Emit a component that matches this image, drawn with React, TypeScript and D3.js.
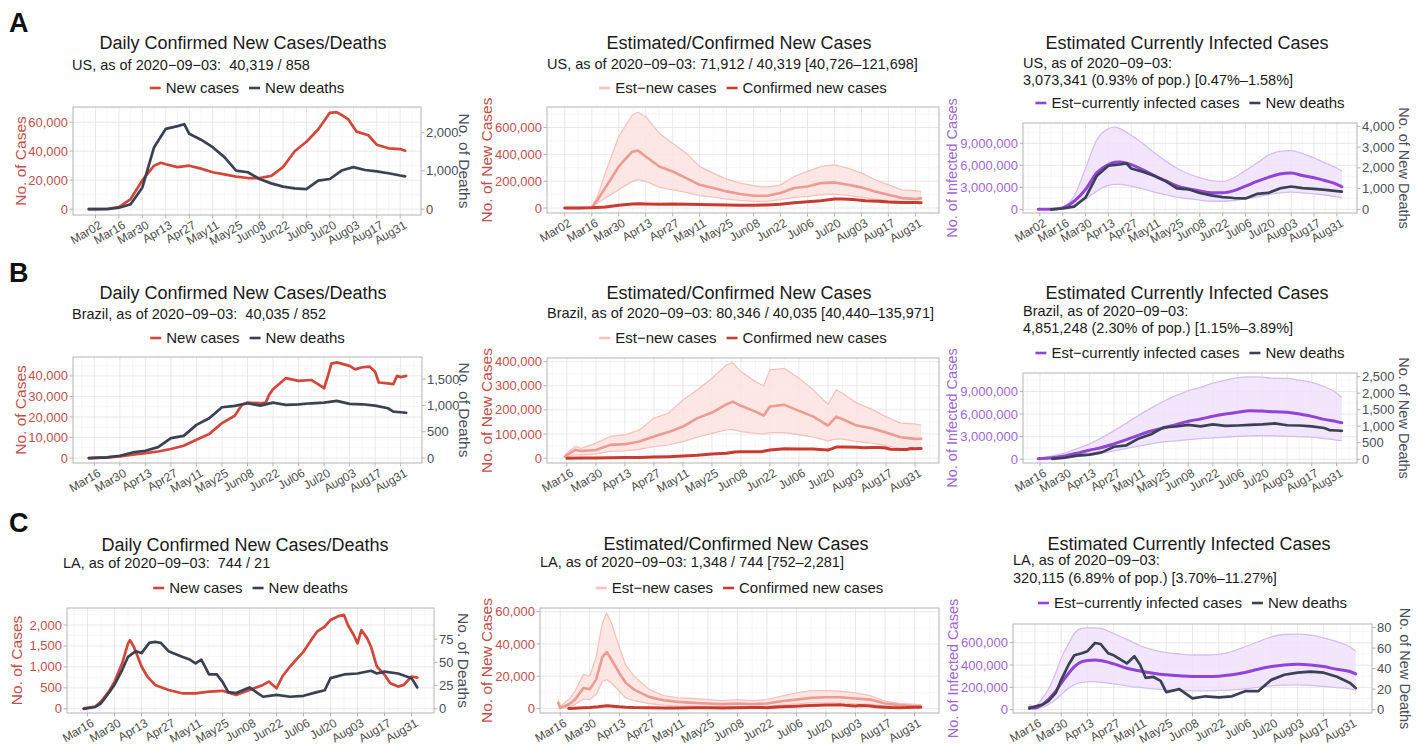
import React from "react";
import * as d3 from "d3";

type Pt = [string, number];

// ---------------- DATA ----------------
// US daily
const usCases: Pt[] = [["02-27",0],["03-02",100],["03-09",300],["03-16",1500],["03-23",7000],["03-30",20000],["04-06",30000],["04-10",32000],["04-13",31000],["04-20",29000],["04-27",30000],["05-04",28000],["05-11",25500],["05-18",24000],["05-25",22500],["06-01",21500],["06-08",21500],["06-15",23000],["06-22",29000],["06-29",40000],["07-06",46500],["07-13",55000],["07-20",66500],["07-24",67000],["07-27",65000],["07-31",62000],["08-05",53500],["08-12",51000],["08-17",44500],["08-24",42000],["08-31",41500],["09-03",40319]];
const usDeaths: Pt[] = [["02-27",0],["03-09",0],["03-16",40],["03-23",130],["03-30",570],["04-06",1620],["04-13",2100],["04-20",2170],["04-24",2220],["04-27",1970],["05-04",1815],["05-11",1620],["05-18",1360],["05-25",1010],["06-01",965],["06-08",790],["06-15",675],["06-22",590],["06-29",545],["07-06",525],["07-13",745],["07-20",790],["07-27",1010],["08-03",1100],["08-10",1025],["08-17",990],["08-24",940],["08-31",880],["09-03",858]];
// US estimated new cases
const usEstDates = ["03-02","03-09","03-16","03-19","03-23","03-30","04-06","04-09","04-13","04-20","04-27","05-04","05-11","05-18","05-25","06-01","06-08","06-15","06-22","06-29","07-06","07-13","07-20","07-27","08-03","08-10","08-17","08-24","08-31","09-03"];
const usEstMed = [0,0,5000,62000,150000,310000,420000,428000,384000,310000,272000,223000,173000,149000,124000,104000,92000,92000,112000,149000,161000,186000,191000,173000,154000,124000,99000,74000,67000,71912];
const usEstHi = [0,0,8000,87000,260000,533000,694000,714000,681000,558000,483000,409000,310000,260000,216000,186000,166000,156000,173000,235000,273000,310000,322000,297000,260000,211000,173000,136000,129000,121698];
const usEstLo = [0,0,2000,37000,74000,136000,198000,211000,198000,156000,136000,116000,92000,82000,67000,57000,50000,50000,62000,79000,87000,99000,104000,94000,82000,67000,55000,45000,42000,40726];
// US currently infected
const usInfDates = ["03-01","03-09","03-16","03-23","03-30","04-06","04-13","04-17","04-20","04-27","05-04","05-11","05-18","05-25","06-01","06-08","06-15","06-22","06-29","07-06","07-13","07-20","07-27","08-03","08-10","08-17","08-24","08-31","09-03"];
const usInfMed = [0,20000,200000,1100000,2700000,5000000,6100000,6400000,6450000,6100000,5400000,4600000,3900000,3200000,2800000,2500000,2250000,2250000,2550000,3150000,3800000,4350000,4800000,4950000,4600000,4300000,3900000,3400000,3073341];
const usInfHi = [0,50000,350000,1800000,5600000,9500000,11000000,11200000,11000000,10100000,9000000,7750000,6600000,5600000,4850000,4300000,3900000,3800000,4300000,5300000,6300000,7350000,7900000,8000000,7600000,7000000,6300000,5600000,5200000];
const usInfLo = [0,10000,100000,550000,1350000,2500000,3250000,3400000,3400000,3150000,2800000,2350000,2000000,1650000,1450000,1250000,1100000,1100000,1200000,1450000,1700000,2000000,2250000,2350000,2250000,2100000,1950000,1700000,1550000];

// Brazil daily
const brCases: Pt[] = [["03-13",0],["03-16",50],["03-23",300],["03-30",800],["04-06",1600],["04-13",2400],["04-20",3200],["04-27",4400],["05-04",6000],["05-11",8900],["05-18",11700],["05-25",17000],["06-01",20600],["06-05",26000],["06-08",27000],["06-15",26700],["06-18",27000],["06-20",31000],["06-22",33500],["06-29",38900],["07-06",37600],["07-13",38000],["07-16",36400],["07-20",34000],["07-22",39700],["07-24",46000],["07-27",46600],["08-03",44900],["08-06",43200],["08-10",44200],["08-14",44500],["08-17",42000],["08-19",36800],["08-24",36400],["08-27",36000],["08-29",40000],["08-31",39400],["09-03",40035]];
const brDeaths: Pt[] = [["03-13",0],["03-23",13],["03-30",45],["04-06",107],["04-13",140],["04-20",208],["04-27",378],["05-04",422],["05-11",630],["05-18",757],["05-25",965],["06-01",990],["06-08",1040],["06-15",995],["06-22",1053],["06-29",1009],["07-06",1021],["07-13",1040],["07-20",1053],["07-27",1085],["08-03",1028],["08-10",1021],["08-17",995],["08-24",946],["08-27",883],["08-31",870],["09-03",860]];
// Brazil estimated new cases
const brEstDates = ["03-15","03-20","03-23","03-30","04-06","04-13","04-20","04-27","05-04","05-11","05-18","05-25","06-01","06-04","06-08","06-15","06-19","06-22","06-29","07-06","07-13","07-20","07-24","07-27","08-03","08-10","08-17","08-24","08-31","09-03"];
const brEstMed = [7000,34000,30000,34000,55000,58000,69000,90000,108000,131000,166000,189000,223000,234000,217000,193000,177000,214000,221000,196000,172000,135000,172000,161000,135000,124000,106000,87000,80000,80346];
const brEstHi = [14000,48000,41000,62000,90000,97000,117000,166000,186000,241000,283000,331000,386000,395000,359000,317000,300000,366000,372000,331000,283000,223000,283000,269000,228000,203000,172000,145000,142000,135971];
const brEstLo = [3000,14000,14000,18000,28000,30000,37000,48000,55000,69000,87000,103000,117000,119000,110000,103000,100000,106000,106000,97000,87000,72000,80000,79000,69000,62000,52000,41000,37000,40440];
// Brazil currently infected
const brInfDates = ["03-15","03-23","03-30","04-06","04-13","04-20","04-27","05-04","05-11","05-18","05-25","06-01","06-08","06-15","06-22","06-29","07-06","07-13","07-20","07-27","08-03","08-10","08-17","08-24","08-31","09-03"];
const brInfMed = [80000,200000,450000,800000,1200000,1550000,2050000,2600000,3200000,3750000,4150000,4600000,5050000,5350000,5700000,6000000,6250000,6450000,6400000,6300000,6250000,6000000,5700000,5300000,5000000,4851248];
const brInfHi = [150000,450000,800000,1400000,2050000,2850000,3800000,4800000,5850000,6800000,7700000,8450000,9100000,9550000,10100000,10500000,10850000,10950000,10900000,10750000,10750000,10500000,10200000,9650000,8800000,8200000];
const brInfLo = [30000,80000,200000,350000,500000,800000,1100000,1450000,1750000,2050000,2300000,2450000,2600000,2750000,2850000,2950000,3050000,3100000,3150000,3100000,3050000,3000000,2950000,2750000,2550000,2430000];

// LA daily
const laCases: Pt[] = [["03-14",10],["03-20",55],["03-23",175],["03-27",410],["03-30",650],["04-03",1090],["04-06",1560],["04-07",1640],["04-09",1480],["04-11",1250],["04-13",1010],["04-16",770],["04-20",570],["04-27",450],["05-04",370],["05-11",370],["05-18",410],["05-25",430],["06-01",330],["06-08",450],["06-15",570],["06-18",650],["06-22",490],["06-25",770],["06-29",1010],["07-06",1365],["07-10",1640],["07-13",1840],["07-17",1960],["07-20",2120],["07-24",2210],["07-27",2240],["07-29",2000],["08-01",1760],["08-03",1560],["08-05",1880],["08-08",1680],["08-10",1480],["08-13",1010],["08-17",810],["08-20",610],["08-24",530],["08-27",570],["08-31",770],["09-03",744]];
const laDeaths: Pt[] = [["03-14",0],["03-20",2],["03-23",6],["03-27",17],["03-30",26],["04-03",42],["04-06",56],["04-10",62],["04-13",60],["04-17",71],["04-20",72],["04-23",71],["04-27",62],["05-04",56],["05-08",53],["05-11",49],["05-14",53],["05-18",37],["05-22",37],["05-25",29],["05-28",18],["06-01",17],["06-08",23],["06-15",13],["06-22",15],["06-29",13],["07-06",14],["07-13",18],["07-17",20],["07-20",33],["07-27",37],["08-03",38],["08-10",41],["08-13",38],["08-17",40],["08-24",38],["08-31",33],["09-03",23]];
// LA estimated new cases
const laEstDates = ["03-15","03-16","03-20","03-23","03-27","03-30","04-02","04-05","04-07","04-09","04-13","04-16","04-20","04-27","05-04","05-11","05-18","05-25","06-01","06-08","06-15","06-22","06-29","07-06","07-13","07-20","07-27","08-03","08-10","08-17","08-24","08-31","09-03"];
const laEstMed = [3500,400,2500,5500,12700,12000,17900,32000,35000,31000,22000,16000,11700,7200,5100,4100,3500,3100,2700,3100,2700,3100,4500,5500,6600,7000,7000,6200,5500,3100,2100,1400,1348];
const laEstHi = [5500,1400,5500,10700,21000,20000,32000,53000,59000,54000,38000,27000,20000,12000,8000,6600,6200,5500,4900,5500,4900,5500,7600,9700,11100,11100,10700,9700,8000,4500,3100,2500,2281];
const laEstLo = [1400,100,1000,2500,6000,5500,8600,16800,17900,16200,10700,6600,4900,3100,2100,1600,1400,1200,1200,1200,1200,1400,2100,2900,3500,3500,3500,2900,2500,1400,1000,800,752];
// LA currently infected
const laInfDates = ["03-13","03-16","03-20","03-23","03-27","03-30","04-03","04-06","04-10","04-13","04-17","04-20","04-27","05-04","05-11","05-18","05-25","06-01","06-08","06-15","06-22","06-29","07-06","07-13","07-20","07-27","08-03","08-10","08-17","08-24","08-31","09-03"];
const laInfMed = [20000,15000,45000,90000,163000,238000,327000,386000,430000,440000,446000,440000,410000,371000,347000,327000,312000,303000,297000,297000,300000,312000,333000,362000,386000,401000,407000,401000,386000,362000,342000,320115];
const laInfHi = [45000,30000,104000,178000,327000,460000,594000,683000,728000,734000,734000,728000,683000,630000,573000,535000,511000,499000,490000,490000,496000,520000,564000,609000,653000,674000,677000,668000,644000,609000,564000,524000];
const laInfLo = [15000,6000,24000,45000,90000,134000,193000,223000,244000,252000,252000,244000,232000,214000,199000,187000,178000,172000,169000,169000,172000,178000,187000,200000,214000,220000,223000,218000,208000,198000,187000,172000];
const laDeathsInf: Pt[] = [["03-13",1],["03-16",3],["03-20",5],["03-23",8],["03-27",16],["03-30",29],["04-03",44],["04-06",53],["04-10",55],["04-13",57],["04-17",65],["04-20",64],["04-24",55],["04-27",53],["05-04",45],["05-08",52],["05-11",44],["05-14",31],["05-18",32],["05-22",28],["05-25",17],["06-01",20],["06-08",11],["06-15",13],["06-22",12],["06-29",13],["07-06",18],["07-13",18],["07-20",29],["07-27",34],["08-03",36],["08-10",37],["08-17",36],["08-24",32],["08-31",26],["09-03",21]];

// Axis ticks
const xTicksA = ["03-02","03-16","03-30","04-13","04-27","05-11","05-25","06-08","06-22","07-06","07-20","08-03","08-17","08-31"];
const xTicksBC = ["03-16","03-30","04-13","04-27","05-11","05-25","06-08","06-22","07-06","07-20","08-03","08-17","08-31"];

// ---------------- STYLE ----------------
const FONT = "'Liberation Sans', Arial, Helvetica, sans-serif";
const RED = "#d2473a";
const DARK = "#3b4155";
const PINK_LINE = "#eb9b93";
const PINK_FILL = "#fce3e0";
const PINK_EDGE = "#f4c3be";
const CONF = "#c93b2f";
const PURPLE = "#9045d6";
const PURPLE_FILL = "#efe2fa";
const PURPLE_EDGE = "#d6bdf1";
const RED_TXT = "#c0504d";
const DARK_TXT = "#4a4e5a";
const PURPLE_TXT = "#a066d6";

const parse = (s: string) => {
  const [m, d] = s.split("-").map(Number);
  return new Date(2020, m - 1, d);
};
const zip = (dates: string[], vals: number[]): Pt[] => dates.map((d, i) => [d, vals[i]]);
const fmtX = d3.timeFormat("%b%d");
const fmtY = d3.format(",");

let ctx: CanvasRenderingContext2D | null = null;
const measure = (t: string, size: number) => {
  if (!ctx) ctx = document.createElement("canvas").getContext("2d");
  if (!ctx) return t.length * size * 0.5;
  ctx.font = `${size}px "Liberation Sans", Arial, sans-serif`;
  return ctx.measureText(t).width;
};

type LineSpec = { data: Pt[]; axis: "L" | "R"; color: string; width: number; smooth?: boolean };
type BandSpec = { dates: string[]; lo: number[]; hi: number[]; fill: string; edge: string; smooth?: boolean };
type AxisSpec = { domain: [number, number]; ticks: number[]; label: string; color: string; labelX: number; labelSize: number };
type LegendItem = { label: string; color: string };
type PanelCfg = {
  id: string;
  box: { x0: number; x1: number; y0: number; y1: number };
  xStart: string; xEnd: string; xTicks: string[];
  left: AxisSpec; right?: AxisSpec;
  bands: BandSpec[]; lines: LineSpec[];
  title: string; titleX: number; titleY: number;
  sub: string[]; subX: number; subY: number[];
  legend: LegendItem[]; legendY: number;
};

const dailyLines = (c: Pt[], d: Pt[]): LineSpec[] => [
  { data: c, axis: "L", color: RED, width: 2.7 },
  { data: d, axis: "R", color: DARK, width: 2.7 },
];

const panels: PanelCfg[] = [
  {
    id: "a1", box: { x0: 73, x1: 421, y0: 107, y1: 215 }, xStart: "02-27", xEnd: "09-03", xTicks: xTicksA,
    left: { domain: [-4000, 70500], ticks: [0, 20000, 40000, 60000], label: "No. of Cases", color: RED_TXT, labelX: 21, labelSize: 15.5 },
    right: { domain: [-151, 2670], ticks: [0, 1000, 2000], label: "No. of Deaths", color: DARK_TXT, labelX: 464, labelSize: 15.5 },
    bands: [], lines: dailyLines(usCases, usDeaths),
    title: "Daily Confirmed New Cases/Deaths", titleX: 243, titleY: 49,
    sub: ["US, as of 2020−09−03:  40,319 / 858"], subX: 72, subY: [70],
    legend: [{ label: "New cases", color: RED }, { label: "New deaths", color: DARK }], legendY: 93,
  },
  {
    id: "a2", box: { x0: 547, x1: 939, y0: 107, y1: 213 }, xStart: "03-02", xEnd: "09-03", xTicks: xTicksA,
    left: { domain: [-37000, 753000], ticks: [0, 200000, 400000, 600000], label: "No. of New Cases", color: RED_TXT, labelX: 487, labelSize: 15.5 },
    bands: [{ dates: usEstDates, lo: usEstLo, hi: usEstHi, fill: PINK_FILL, edge: PINK_EDGE }],
    lines: [
      { data: zip(usEstDates, usEstMed), axis: "L", color: PINK_LINE, width: 2.6 },
      { data: usCases, axis: "L", color: CONF, width: 3 },
    ],
    title: "Estimated/Confirmed New Cases", titleX: 739, titleY: 49,
    sub: ["US, as of 2020−09−03: 71,912 / 40,319 [40,726–121,698]"], subX: 547, subY: [69],
    legend: [{ label: "Est−new cases", color: PINK_EDGE }, { label: "Confirmed new cases", color: CONF }], legendY: 93,
  },
  {
    id: "a3", box: { x0: 1023, x1: 1357, y0: 123, y1: 213 }, xStart: "03-01", xEnd: "09-03", xTicks: xTicksA,
    left: { domain: [-500000, 11760000], ticks: [0, 3000000, 6000000, 9000000], label: "No. of Infected Cases", color: PURPLE_TXT, labelX: 952, labelSize: 14.5 },
    right: { domain: [-177, 4163], ticks: [0, 1000, 2000, 3000, 4000], label: "No. of New Deaths", color: DARK_TXT, labelX: 1404, labelSize: 14.5 },
    bands: [{ dates: usInfDates, lo: usInfLo, hi: usInfHi, fill: PURPLE_FILL, edge: PURPLE_EDGE, smooth: true }],
    lines: [
      { data: zip(usInfDates, usInfMed), axis: "L", color: PURPLE, width: 3, smooth: true },
      { data: usDeaths, axis: "R", color: DARK, width: 2.7 },
    ],
    title: "Estimated Currently Infected Cases", titleX: 1187, titleY: 49,
    sub: ["US, as of 2020−09−03:", "3,073,341 (0.93% of pop.) [0.47%–1.58%]"], subX: 1023, subY: [68, 85],
    legend: [{ label: "Est−currently infected cases", color: PURPLE }, { label: "New deaths", color: DARK }], legendY: 108,
  },
  {
    id: "b1", box: { x0: 73, x1: 422, y0: 357, y1: 463 }, xStart: "03-13", xEnd: "09-03", xTicks: xTicksBC,
    left: { domain: [-2400, 49200], ticks: [0, 10000, 20000, 30000, 40000], label: "No. of Cases", color: RED_TXT, labelX: 21, labelSize: 15.5 },
    right: { domain: [-93, 1918], ticks: [0, 500, 1000, 1500], label: "No. of Deaths", color: DARK_TXT, labelX: 464, labelSize: 15.5 },
    bands: [], lines: dailyLines(brCases, brDeaths),
    title: "Daily Confirmed New Cases/Deaths", titleX: 243, titleY: 299,
    sub: ["Brazil, as of 2020−09−03:  40,035 / 852"], subX: 72, subY: [319],
    legend: [{ label: "New cases", color: RED }, { label: "New deaths", color: DARK }], legendY: 343,
  },
  {
    id: "b2", box: { x0: 547, x1: 939, y0: 358, y1: 463 }, xStart: "03-15", xEnd: "09-03", xTicks: xTicksBC,
    left: { domain: [-20000, 415000], ticks: [0, 100000, 200000, 300000, 400000], label: "No. of New Cases", color: RED_TXT, labelX: 487, labelSize: 15.5 },
    bands: [{ dates: brEstDates, lo: brEstLo, hi: brEstHi, fill: PINK_FILL, edge: PINK_EDGE }],
    lines: [
      { data: zip(brEstDates, brEstMed), axis: "L", color: PINK_LINE, width: 2.6 },
      { data: brCases, axis: "L", color: CONF, width: 3 },
    ],
    title: "Estimated/Confirmed New Cases", titleX: 739, titleY: 299,
    sub: ["Brazil, as of 2020−09−03: 80,346 / 40,035 [40,440–135,971]"], subX: 547, subY: [318],
    legend: [{ label: "Est−new cases", color: PINK_EDGE }, { label: "Confirmed new cases", color: CONF }], legendY: 343,
  },
  {
    id: "b3", box: { x0: 1023, x1: 1357, y0: 373, y1: 463 }, xStart: "03-15", xEnd: "09-03", xTicks: xTicksBC,
    left: { domain: [-500000, 11460000], ticks: [0, 3000000, 6000000, 9000000], label: "No. of Infected Cases", color: PURPLE_TXT, labelX: 952, labelSize: 14.5 },
    right: { domain: [-114, 2610], ticks: [0, 500, 1000, 1500, 2000, 2500], label: "No. of New Deaths", color: DARK_TXT, labelX: 1404, labelSize: 14.5 },
    bands: [{ dates: brInfDates, lo: brInfLo, hi: brInfHi, fill: PURPLE_FILL, edge: PURPLE_EDGE, smooth: true }],
    lines: [
      { data: zip(brInfDates, brInfMed), axis: "L", color: PURPLE, width: 3, smooth: true },
      { data: brDeaths, axis: "R", color: DARK, width: 2.7 },
    ],
    title: "Estimated Currently Infected Cases", titleX: 1187, titleY: 299,
    sub: ["Brazil, as of 2020−09−03:", "4,851,248 (2.30% of pop.) [1.15%–3.89%]"], subX: 1023, subY: [316, 333],
    legend: [{ label: "Est−currently infected cases", color: PURPLE }, { label: "New deaths", color: DARK }], legendY: 358,
  },
  {
    id: "c1", box: { x0: 67, x1: 434, y0: 608, y1: 713 }, xStart: "03-14", xEnd: "09-03", xTicks: xTicksBC,
    left: { domain: [-100, 2405], ticks: [0, 500, 1000, 1500, 2000], label: "No. of Cases", color: RED_TXT, labelX: 17, labelSize: 15.5 },
    right: { domain: [-4.5, 108.5], ticks: [0, 25, 50, 75], label: "No. of Deaths", color: DARK_TXT, labelX: 463, labelSize: 15.5 },
    bands: [], lines: dailyLines(laCases, laDeaths),
    title: "Daily Confirmed New Cases/Deaths", titleX: 245, titleY: 551,
    sub: ["LA, as of 2020−09−03:  744 / 21"], subX: 63, subY: [568],
    legend: [{ label: "New cases", color: RED }, { label: "New deaths", color: DARK }], legendY: 593,
  },
  {
    id: "c2", box: { x0: 540, x1: 939, y0: 608, y1: 713 }, xStart: "03-15", xEnd: "09-03", xTicks: xTicksBC,
    left: { domain: [-2800, 62300], ticks: [0, 20000, 40000, 60000], label: "No. of New Cases", color: RED_TXT, labelX: 487, labelSize: 15.5 },
    bands: [{ dates: laEstDates, lo: laEstLo, hi: laEstHi, fill: PINK_FILL, edge: PINK_EDGE }],
    lines: [
      { data: zip(laEstDates, laEstMed), axis: "L", color: PINK_LINE, width: 2.6 },
      { data: laCases, axis: "L", color: CONF, width: 3 },
    ],
    title: "Estimated/Confirmed New Cases", titleX: 736, titleY: 550,
    sub: ["LA, as of 2020−09−03: 1,348 / 744 [752–2,281]"], subX: 540, subY: [567],
    legend: [{ label: "Est−new cases", color: PINK_EDGE }, { label: "Confirmed new cases", color: CONF }], legendY: 593,
  },
  {
    id: "c3", box: { x0: 1013, x1: 1372, y0: 624, y1: 713 }, xStart: "03-13", xEnd: "09-03", xTicks: xTicksBC,
    left: { domain: [-30000, 768000], ticks: [0, 200000, 400000, 600000], label: "No. of Infected Cases", color: PURPLE_TXT, labelX: 953, labelSize: 14.5 },
    right: { domain: [-3.3, 83.5], ticks: [0, 20, 40, 60, 80], label: "No. of New Deaths", color: DARK_TXT, labelX: 1405, labelSize: 14.5 },
    bands: [{ dates: laInfDates, lo: laInfLo, hi: laInfHi, fill: PURPLE_FILL, edge: PURPLE_EDGE, smooth: true }],
    lines: [
      { data: zip(laInfDates, laInfMed), axis: "L", color: PURPLE, width: 3, smooth: true },
      { data: laDeathsInf, axis: "R", color: DARK, width: 2.7 },
    ],
    title: "Estimated Currently Infected Cases", titleX: 1189, titleY: 550,
    sub: ["LA, as of 2020−09−03:", "320,115 (6.89% of pop.) [3.70%–11.27%]"], subX: 1013, subY: [565, 583],
    legend: [{ label: "Est−currently infected cases", color: PURPLE }, { label: "New deaths", color: DARK }], legendY: 608,
  },
];

const minorVals = (ticks: number[], lo: number, hi: number) => {
  const step = ticks[1] - ticks[0];
  const out: number[] = [];
  for (let v = ticks[0] - step / 2; v <= hi; v += step) if (v >= lo) out.push(v);
  return out;
};

function Panel({ p }: { p: PanelCfg }) {
  const { x0, x1, y0, y1 } = p.box;
  const xs = parse(p.xStart), xe = parse(p.xEnd);
  const R = +xe - +xs;
  const x = d3.scaleTime().domain([new Date(+xs - 0.05 * R), new Date(+xe + 0.05 * R)]).range([x0, x1]);
  const yL = d3.scaleLinear().domain(p.left.domain).range([y1, y0]);
  const yR = p.right ? d3.scaleLinear().domain(p.right.domain).range([y1, y0]) : yL;
  const [dl, dh] = x.domain();
  const xMajor = p.xTicks.map(parse);
  const weekMs = 7 * 864e5;
  const xMinor: Date[] = [];
  for (let t = +xMajor[0] - weekMs; t <= +dh; t += 2 * weekMs) if (t >= +dl) xMinor.push(new Date(t));
  const yMinor = minorVals(p.left.ticks, p.left.domain[0], p.left.domain[1]);
  const clipId = `clip-${p.id}`;
  const cy = (y0 + y1) / 2;

  // legend layout
  const LS = 15, keyW = 11, keyGap = 5, itemGap = 10;
  const widths = p.legend.map((it) => keyW + keyGap + measure(it.label, LS));
  const total = widths.reduce((a, b) => a + b, 0) + itemGap * (p.legend.length - 1);
  let lx = (x0 + x1) / 2 - total / 2;
  const legendPos = widths.map((w) => { const s = lx; lx += w + itemGap; return s; });

  return (
    <g>
      <defs>
        <clipPath id={clipId}><rect x={x0} y={y0} width={x1 - x0} height={y1 - y0} /></clipPath>
      </defs>
      <rect x={x0} y={y0} width={x1 - x0} height={y1 - y0} fill="#fff" />
      {/* grid */}
      <g stroke="#f1f1f1" strokeWidth={0.6}>
        {xMinor.map((d, i) => <line key={"xm" + i} x1={x(d)} x2={x(d)} y1={y0} y2={y1} />)}
        {yMinor.map((v, i) => <line key={"ym" + i} x1={x0} x2={x1} y1={yL(v)} y2={yL(v)} />)}
      </g>
      <g stroke="#e2e2e2" strokeWidth={0.8}>
        {xMajor.map((d, i) => <line key={"xM" + i} x1={x(d)} x2={x(d)} y1={y0} y2={y1} />)}
        {p.left.ticks.map((v, i) => <line key={"yM" + i} x1={x0} x2={x1} y1={yL(v)} y2={yL(v)} />)}
      </g>
      <g clipPath={`url(#${clipId})`}>
        {p.bands.map((b, i) => {
          const pts = b.dates.map((d, k) => ({ t: parse(d), lo: b.lo[k], hi: b.hi[k] }));
          const curve = b.smooth ? d3.curveMonotoneX : d3.curveLinear;
          const area = d3.area<any>().x((d) => x(d.t)).y0((d) => yL(d.lo)).y1((d) => yL(d.hi)).curve(curve);
          const lineHi = d3.line<any>().x((d) => x(d.t)).y((d) => yL(d.hi)).curve(curve);
          const lineLo = d3.line<any>().x((d) => x(d.t)).y((d) => yL(d.lo)).curve(curve);
          return (
            <g key={"b" + i}>
              <path d={area(pts) || ""} fill={b.fill} opacity={0.85} />
              <path d={lineHi(pts) || ""} fill="none" stroke={b.edge} strokeWidth={1.3} />
              <path d={lineLo(pts) || ""} fill="none" stroke={b.edge} strokeWidth={1.3} />
            </g>
          );
        })}
        {p.lines.map((l, i) => {
          const ys = l.axis === "L" ? yL : yR;
          const data = l.data.filter((d) => +parse(d[0]) >= +xs);
          const gen = d3.line<Pt>().x((d) => x(parse(d[0]))).y((d) => ys(d[1])).curve(l.smooth ? d3.curveMonotoneX : d3.curveLinear);
          return <path key={"l" + i} d={gen(data) || ""} fill="none" stroke={l.color} strokeWidth={l.width} strokeLinejoin="round" strokeLinecap="round" />;
        })}
      </g>
      <rect x={x0} y={y0} width={x1 - x0} height={y1 - y0} fill="none" stroke="#b3b3b3" strokeWidth={1} />
      {/* left axis */}
      <g fontFamily={FONT} fontSize={13} fill={p.left.color}>
        {p.left.ticks.map((v, i) => (
          <g key={"lt" + i}>
            <line x1={x0 - 3.5} x2={x0} y1={yL(v)} y2={yL(v)} stroke="#b3b3b3" />
            <text x={x0 - 5} y={yL(v)} dy="0.35em" textAnchor="end">{fmtY(v)}</text>
          </g>
        ))}
      </g>
      <text transform={`translate(${p.left.labelX},${cy}) rotate(-90)`} dy="0.35em" textAnchor="middle" fontFamily={FONT} fontSize={p.left.labelSize} fill={p.left.color}>{p.left.label}</text>
      {p.right && (
        <g>
          <g fontFamily={FONT} fontSize={13} fill={p.right.color}>
            {p.right.ticks.map((v, i) => (
              <g key={"rt" + i}>
                <line x1={x1} x2={x1 + 3.5} y1={yR(v)} y2={yR(v)} stroke="#b3b3b3" />
                <text x={x1 + 5} y={yR(v)} dy="0.35em" textAnchor="start">{fmtY(v)}</text>
              </g>
            ))}
          </g>
          <text transform={`translate(${p.right.labelX},${cy}) rotate(90)`} dy="0.35em" textAnchor="middle" fontFamily={FONT} fontSize={p.right.labelSize} fill={p.right.color}>{p.right.label}</text>
        </g>
      )}
      {/* bottom axis */}
      <g fontFamily={FONT} fontSize={12} fill="#4d4d4d">
        {xMajor.map((d, i) => (
          <g key={"bt" + i}>
            <line x1={x(d)} x2={x(d)} y1={y1} y2={y1 + 3.5} stroke="#b3b3b3" />
            <text transform={`translate(${x(d) + 3},${y1 + 5}) rotate(-30)`} dy="0.72em" textAnchor="end">{fmtX(d)}</text>
          </g>
        ))}
      </g>
      {/* titles */}
      <text x={p.titleX} y={p.titleY} textAnchor="middle" fontFamily={FONT} fontSize={18} fill="#1a1a1a">{p.title}</text>
      {p.sub.map((s, i) => (
        <text key={"s" + i} x={p.subX} y={p.subY[i]} fontFamily={FONT} fontSize={14.5} fill="#1a1a1a" style={{ whiteSpace: "pre" }}>{s}</text>
      ))}
      {/* legend */}
      {p.legend.map((it, i) => (
        <g key={"lg" + i}>
          <line x1={legendPos[i]} x2={legendPos[i] + keyW} y1={p.legendY - 5} y2={p.legendY - 5} stroke={it.color} strokeWidth={2.6} />
          <text x={legendPos[i] + keyW + keyGap} y={p.legendY} fontFamily={FONT} fontSize={LS} fill="#1a1a1a">{it.label}</text>
        </g>
      ))}
    </g>
  );
}

export default function App() {
  return (
    <svg width={1416} height={747} viewBox="0 0 1416 747" style={{ position: "absolute", left: 0, top: 0, background: "#fff", display: "block" }}>
      <rect x={0} y={0} width={1416} height={747} fill="#fff" />
      <g fontFamily={FONT} fontWeight="bold" fontSize={27} fill="#111">
        <text x={9} y={32}>A</text>
        <text x={9} y={282}>B</text>
        <text x={9} y={532}>C</text>
      </g>
      {panels.map((p) => <Panel key={p.id} p={p} />)}
    </svg>
  );
}
